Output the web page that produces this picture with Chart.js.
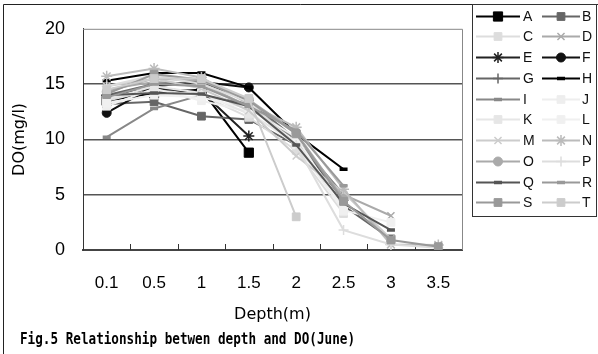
<!DOCTYPE html>
<html>
<head>
<meta charset="utf-8">
<script src="https://cdn.jsdelivr.net/npm/chart.js@4/dist/chart.umd.min.js"></script>
<style>
  html, body { margin: 0; padding: 0; background: #fff; }
  #wrap { width: 598px; height: 354px; }
</style>
</head>
<body>
<div id="wrap"><canvas id="chart"></canvas></div>
<script>
// depth categories (m)
const depths = ['0.1', '0.5', '1', '1.5', '2', '2.5', '3', '3.5'];

// DO (mg/l) per site
const siteA = [13.5, 14.2, 14.5, 8.8, null, null, null, null];
const siteB = [13.2, 13.4, 12.1, 11.8, 9.5, 4.0, 1.0, null];
const siteC = [13.5, 14.5, 14.0, 12.0, 9.0, 3.3, null, null];
const siteD = [14.5, 15.2, 15.0, 13.0, 10.0, 5.0, 3.1, null];
const siteE = [14.0, 14.6, 14.3, 10.3, null, null, null, null];
const siteF = [12.4, 14.8, 15.2, 14.7, null, null, null, null];
const siteG = [14.0, 15.0, 15.2, 13.5, 10.0, 4.5, null, null];
const siteH = [15.3, 16.0, 16.0, 14.7, 10.5, 7.3, null, null];
const siteI = [10.2, 12.8, 14.0, 13.2, 10.0, 5.0, null, null];
const siteJ = [13.0, 14.6, 13.5, 12.5, 9.5, 3.5, null, null];
const siteK = [13.6, 14.8, 14.2, 12.3, 9.8, 3.8, null, null];
const siteL = [13.3, 14.0, 13.8, 12.8, 10.2, 3.6, 2.5, null];
const siteM = [14.8, 15.5, 14.6, 12.6, 8.5, 5.2, 1.0, null];
const siteN = [15.7, 16.4, 15.6, 13.2, 11.1, 5.5, 0.5, 0.45];
const siteO = [14.3, 15.5, 15.3, 13.6, 10.6, 4.6, null, null];
const siteP = [14.8, 15.8, 15.0, 13.4, 9.5, 1.8, 0.5, 0.2];
const siteQ = [14.0, 14.2, 14.1, 13.0, 9.5, 4.2, 1.8, null];
const siteR = [13.8, 15.0, 14.8, 13.0, 10.8, 5.8, null, null];
const siteS = [14.1, 15.9, 15.4, 13.5, 10.5, 4.4, 0.9, 0.3];
const siteT = [14.5, 15.5, 15.5, 13.7, 3.0, null, null, null];

const siteNames = ['A','B','C','D','E','F','G','H','I','J','K','L','M','N','O','P','Q','R','S','T'];
const siteValues = [siteA, siteB, siteC, siteD, siteE, siteF, siteG, siteH, siteI, siteJ,
                    siteK, siteL, siteM, siteN, siteO, siteP, siteQ, siteR, siteS, siteT];

// line colour, marker style, marker radius
const styles = [
  ['#000', 'rect', 6.5], ['#666', 'rect', 5.5], ['#ddd', 'rect', 5.5], ['#aaa', 'crossRot', 5],
  ['#222', 'star', 5.5], ['#111', 'circle', 4.5], ['#666', 'cross', 5], ['#000', 'line', 4],
  ['#888', 'line', 4], ['#eee', 'rect', 5.5], ['#e6e6e6', 'rect', 5.5], ['#f0f0f0', 'rect', 5.5],
  ['#ccc', 'crossRot', 5], ['#bbb', 'star', 5.5], ['#aaa', 'circle', 4.5], ['#ddd', 'cross', 5],
  ['#555', 'line', 4], ['#999', 'line', 4], ['#999', 'rect', 5.5], ['#ccc', 'rect', 5.5]
];

const datasets = siteNames.map((name, i) => {
  const [color, shape, r] = styles[i];
  const thick = shape === 'line' ? 3.5 : (shape === 'crossRot' || shape === 'star' || shape === 'cross' ? 1.5 : 1);
  return {
    label: name,
    data: siteValues[i],
    borderColor: color,
    backgroundColor: color,
    borderWidth: 2,
    pointStyle: shape,
    pointRadius: r,
    pointBorderWidth: thick,
    pointBorderColor: color,
    pointBackgroundColor: color,
    spanGaps: false,
    tension: 0,
    order: siteNames.length - i
  };
});

// frame, plot border, inner tick marks, legend and caption
const decor = {
  id: 'decor',
  beforeDatasetsDraw(chart) {
    const { ctx, chartArea: a } = chart;
    ctx.save();
    ctx.strokeStyle = '#888';
    ctx.lineWidth = 1;
    ctx.beginPath();
    ctx.moveTo(a.left, a.top + 0.5); ctx.lineTo(a.right + 0.5, a.top + 0.5);
    ctx.lineTo(a.right + 0.5, a.bottom);
    ctx.stroke();
    // category boundary ticks pointing into the plot
    const xs = chart.scales.x;
    const n = xs.ticks.length;
    ctx.strokeStyle = '#333';
    ctx.beginPath();
    for (let i = 1; i < n; i++) {
      const px = Math.round(xs.left + i * (xs.right - xs.left) / n) + 0.5;
      ctx.moveTo(px, a.bottom); ctx.lineTo(px, a.bottom - 6);
    }
    ctx.stroke();
    ctx.restore();
  },
  afterDraw(chart) {
    const { ctx } = chart;
    ctx.save();
    // outer frame
    ctx.strokeStyle = '#222';
    ctx.lineWidth = 1;
    ctx.beginPath();
    ctx.moveTo(3.5, 354); ctx.lineTo(3.5, 4.5); ctx.lineTo(598, 4.5);
    ctx.stroke();

    // legend
    ctx.fillStyle = '#fff';
    ctx.fillRect(472, 4, 125, 213);
    ctx.strokeStyle = '#333';
    ctx.strokeRect(472.5, 4.5, 124, 212);
    const cols = [{ l0: 476, l1: 520, m: 498, t: 523 }, { l0: 542, l1: 580, m: 561, t: 582 }];
    ctx.font = '14px "Liberation Sans", Arial, sans-serif';
    ctx.textBaseline = 'middle';
    chart.data.datasets.forEach((ds, i) => {
      const c = cols[i % 2];
      const y = Math.round(15.5 + Math.floor(i / 2) * 20.75) + 0.5;
      ctx.strokeStyle = ds.borderColor;
      ctx.lineWidth = 2;
      ctx.beginPath(); ctx.moveTo(c.l0, y); ctx.lineTo(c.l1, y); ctx.stroke();
      ctx.fillStyle = ds.pointBackgroundColor;
      ctx.strokeStyle = ds.pointBorderColor;
      ctx.lineWidth = ds.pointBorderWidth;
      Chart.helpers.drawPoint(ctx, { pointStyle: ds.pointStyle, radius: ds.pointRadius, rotation: 0, borderWidth: ds.pointBorderWidth }, c.m, y);
      ctx.fillStyle = '#111';
      ctx.fillText(ds.label, c.t, y + 1);
    });

    // caption
    const caption = 'Fig.5 Relationship betwen depth and DO(June)';
    ctx.font = 'bold 16px "DejaVu Sans Mono", monospace';
    ctx.textBaseline = 'middle';
    const w = ctx.measureText(caption).width;
    ctx.translate(20, 340);
    ctx.scale(335 / w, 1);
    ctx.fillStyle = '#000';
    ctx.fillText(caption, 0, 0);
    ctx.restore();
  }
};

new Chart(document.getElementById('chart'), {
  type: 'line',
  data: { labels: depths, datasets },
  options: {
    responsive: true,
    maintainAspectRatio: false,
    animation: false,
    layout: { padding: { left: 10, top: 21, right: 136, bottom: 30 } },
    plugins: { legend: { display: false }, tooltip: { enabled: false } },
    scales: {
      x: {
        offset: true,
        grid: { display: false, drawTicks: false },
        border: { color: '#444', width: 2 },
        ticks: { color: '#000', padding: 23, font: { family: '"Liberation Sans", Arial', size: 17 } },
        title: { display: true, text: 'Depth(m)', color: '#000', padding: 0,
                 font: { family: '"DejaVu Sans"', size: 16 } },
        afterFit(s) { s.height = 74; }
      },
      y: {
        min: 0, max: 20,
        grid: {
          drawTicks: false,
          color: c => (c.tick.value > 0 && c.tick.value < 20) ? '#555' : 'rgba(0,0,0,0)',
          lineWidth: 1.5
        },
        border: { color: '#333', width: 1 },
        ticks: { stepSize: 5, color: '#000', padding: 18, font: { family: '"Liberation Sans", Arial', size: 18 } },
        title: { display: true, text: 'DO(mg/l)', color: '#000', padding: 0,
                 font: { family: '"DejaVu Sans"', size: 16 } },
        afterFit(s) { s.width = 73; }
      }
    }
  },
  plugins: [decor]
});
</script>
</body>
</html>
